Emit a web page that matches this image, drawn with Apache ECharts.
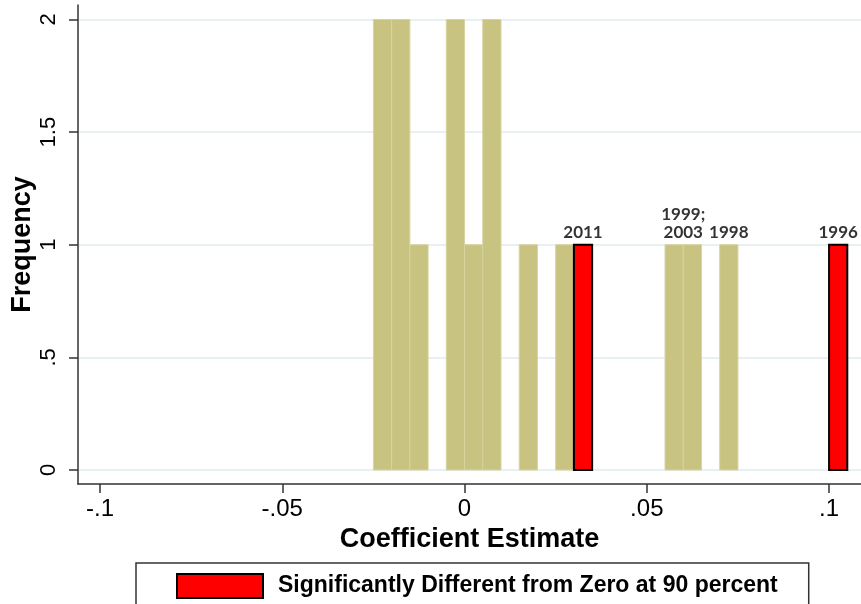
<!DOCTYPE html>
<html>
<head>
<meta charset="utf-8">
<title>Coefficient Estimate Histogram</title>
<script src="https://cdn.jsdelivr.net/npm/echarts@6/dist/echarts.min.js"></script>
<style>
  html, body { margin: 0; padding: 0; background: #ffffff; }
  #chart { width: 861px; height: 604px; }
</style>
</head>
<body>
<div id="chart"></div>
<script>
// Histogram bins (left edge of each bin) and their frequencies
var binWidth = 0.005;
var otherBinStarts = [-0.025, -0.02, -0.015, -0.005, 0, 0.005, 0.015, 0.025, 0.055, 0.06, 0.07];
var otherCounts    = [2, 2, 1, 2, 1, 2, 1, 1, 1, 1, 1];
var sigBinStarts   = [0.03, 0.1];
var sigCounts      = [1, 1];

// Year annotations above selected bars
var yearLabelX     = [0.0325, 0.06, 0.0725, 0.1025];
var yearLabelY     = [1, 1, 1, 1];
var yearLabelText  = ['2011', '1999;\n2003', '1998', '1996'];

// Axis ticks and their labels
var xTickValues = [-0.1, -0.05, 0, 0.05, 0.1];
var xTickLabels = ['-.1', '-.05', '0', '.05', '.1'];
var yTickValues = [0, 0.5, 1, 1.5, 2];
var yTickLabels = ['0', '.5', '1', '1.5', '2'];

var sigName = 'Significantly Different from Zero at 90 percent';
var sans = '"Liberation Sans", Arial, sans-serif';

function zip(a, b) { return a.map(function (v, i) { return [v, b[i]]; }); }

function labelFor(values, labels) {
  return function (v) {
    for (var i = 0; i < values.length; i++) {
      if (Math.abs(values[i] - v) < 1e-9) return labels[i];
    }
    return '';
  };
}

function binRect(params, api) {
  var x0 = api.value(0);
  var h = api.value(1);
  var p0 = api.coord([x0, 0]);
  var p1 = api.coord([x0 + binWidth, h]);
  return {
    type: 'rect',
    shape: { x: p0[0], y: p1[1], width: p1[0] - p0[0], height: p0[1] - p1[1] },
    style: api.style()
  };
}

var chart = echarts.init(document.getElementById('chart'), null, { renderer: 'canvas' });

chart.setOption({
  animation: false,
  backgroundColor: '#ffffff',
  grid: { left: 78, right: 0, top: 5, bottom: 120, containLabel: false, outerBoundsMode: 'none' },
  xAxis: {
    type: 'value',
    min: -0.10604,
    max: 0.10876,
    name: 'Coefficient Estimate',
    nameLocation: 'middle',
    nameGap: 36,
    nameTextStyle: { fontFamily: sans, fontWeight: 'bold', fontSize: 27, color: '#000' },
    axisLine: { show: true, onZero: false, lineStyle: { color: '#333', width: 1.5 } },
    axisTick: { show: true, length: 9, customValues: xTickValues, lineStyle: { color: '#333', width: 1.5 } },
    axisLabel: {
      customValues: xTickValues,
      formatter: labelFor(xTickValues, xTickLabels),
      margin: 13,
      fontFamily: sans, fontSize: 24, color: '#000'
    },
    splitLine: { show: false }
  },
  yAxis: {
    type: 'value',
    min: -0.0622,
    max: 2.0644,
    name: 'Frequency',
    nameLocation: 'middle',
    nameGap: 42,
    nameMoveOverlap: false,
    nameRotate: 90,
    nameTextStyle: { fontFamily: sans, fontWeight: 'bold', fontSize: 27, color: '#000' },
    axisLine: { show: true, onZero: false, lineStyle: { color: '#333', width: 1.5 } },
    axisTick: { show: true, length: 9, customValues: yTickValues, lineStyle: { color: '#333', width: 1.5 } },
    axisLabel: {
      customValues: yTickValues,
      formatter: labelFor(yTickValues, yTickLabels),
      rotate: 90,
      margin: 18,
      fontFamily: sans, fontSize: 22, color: '#000'
    },
    splitLine: { show: true, lineStyle: { color: '#e9f0f3', width: 2 } }
  },
  legend: {
    data: [{ name: sigName, icon: 'rect' }],
    left: 136,
    top: 563,
    orient: 'horizontal',
    itemWidth: 86,
    itemHeight: 24,
    padding: [10, 31, 30, 40],
    borderColor: '#333',
    borderWidth: 1.5,
    backgroundColor: '#ffffff',
    selectedMode: false,
    itemStyle: { color: '#ff0000', borderColor: '#000', borderWidth: 2 },
    textStyle: { fontFamily: sans, fontWeight: 'bold', fontSize: 23, color: '#000', padding: [0, 0, 0, 10] }
  },
  series: [
    {
      type: 'custom',
      name: 'Other estimates',
      renderItem: binRect,
      encode: { x: 0, y: 1 },
      data: zip(otherBinStarts, otherCounts),
      itemStyle: { color: '#c9c381', borderColor: '#d7d39f', borderWidth: 1 },
      z: 2
    },
    {
      type: 'custom',
      name: sigName,
      renderItem: binRect,
      encode: { x: 0, y: 1 },
      data: zip(sigBinStarts, sigCounts),
      itemStyle: { color: '#ff0000', borderColor: '#000', borderWidth: 2 },
      z: 3
    },
    {
      type: 'scatter',
      name: 'Years',
      symbolSize: 0,
      data: yearLabelX.map(function (x, i) { return { value: [x, yearLabelY[i]], name: yearLabelText[i] }; }),
      label: {
        show: true,
        position: 'top',
        distance: 3,
        formatter: function (p) { return p.name; },
        fontFamily: 'Lato, "Open Sans", sans-serif',
        fontWeight: 'bold',
        fontSize: 17,
        lineHeight: 18,
        color: '#000'
      },
      z: 4
    }
  ]
});
</script>
</body>
</html>
